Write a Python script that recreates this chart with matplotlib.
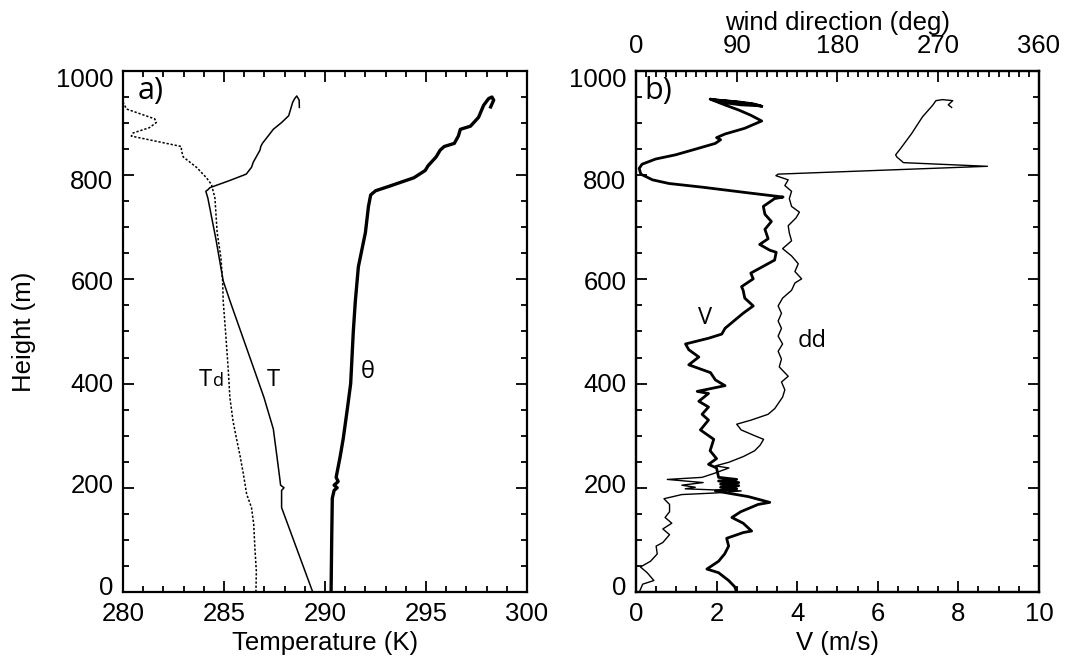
import matplotlib
matplotlib.use("Agg")
import matplotlib.pyplot as plt
from matplotlib.ticker import MultipleLocator
from matplotlib.transforms import ScaledTranslation

plt.rcParams['font.family'] = ['Liberation Sans', 'DejaVu Sans']

# ---------------- data: panel a) ----------------
T_height = [0, 162, 195, 200, 205, 215, 260, 313, 373, 426, 558, 597, 677, 756, 769,
            772, 776, 790, 802, 815, 825, 848, 855, 861, 888, 901, 914, 940, 947, 952,
            944, 930]
T_value = [289.39, 287.85, 287.85, 287.97, 287.8, 287.77, 287.62, 287.44, 286.98, 286.5,
           285.3, 284.96, 284.6, 284.2, 284.1, 284.2, 284.3, 285.3, 286.1, 286.36, 286.45,
           286.78, 286.82, 286.9, 287.44, 287.85, 288.2, 288.4, 288.5, 288.6, 288.72, 288.73]

Td_height = [0, 40, 83, 130, 162, 188, 228, 260, 294, 327, 373, 426, 492, 558, 597, 640,
             690, 756, 782, 795, 815, 835, 848, 855, 875, 881, 891, 901, 908, 927, 940, 950]
Td_value = [286.58, 286.6, 286.53, 286.47, 286.36, 286.12, 285.95, 285.8, 285.62, 285.45,
            285.29, 285.21, 285.09, 284.96, 284.93, 284.85, 284.66, 284.55, 284.38, 284.13,
            283.64, 282.98, 282.89, 282.89, 280.41, 280.5, 281.3, 281.65, 281.57, 280.17,
            280.0, 279.8]

theta_height = [0, 100, 180, 195, 200, 205, 212, 220, 260, 294, 350, 400, 500, 558, 624,
                690, 740, 762, 770, 779, 795, 809, 818, 835, 848, 855, 861, 875, 888, 894,
                911, 934, 947, 950, 944, 931]
theta_value = [290.3, 290.33, 290.36, 290.45, 290.6, 290.45, 290.65, 290.55, 290.75, 290.9,
               291.1, 291.27, 291.4, 291.5, 291.65, 292.0, 292.15, 292.26, 292.5, 293.2,
               294.4, 294.96, 295.1, 295.5, 295.7, 295.9, 296.4, 296.6, 296.7, 297.2, 297.6,
               297.85, 298.1, 298.26, 298.35, 298.2]

# ---------------- data: panel b) ----------------
V_height = [0, 10, 22, 37, 44, 59, 73, 88, 103, 114, 117, 132, 143, 154, 168, 172, 183,
            194, 198, 201, 204, 207, 210, 213, 216, 220, 238, 245, 256, 271, 293, 311, 330,
            341, 355, 366, 381, 385, 396, 407, 421, 436, 451, 465, 476, 487, 495, 506, 517,
            535, 549, 564, 579, 586, 601, 612, 623, 637, 652, 656, 667, 678, 696, 711, 725,
            740, 755, 758, 766, 777, 784, 791, 802, 813, 821, 831, 839, 850, 861, 868, 872,
            879, 890, 904, 915, 925, 935, 946, 944, 941, 937, 933, 935, 940, 945, 941, 936,
            932]
V_value = [2.5, 2.45, 2.3, 2.05, 1.76, 2.05, 2.2, 2.3, 2.25, 2.66, 2.87, 2.66, 2.38, 2.6,
           3.03, 3.32, 2.79, 1.97, 2.5, 2.1, 2.55, 2.1, 2.55, 2.05, 2.5, 2.05, 2.0, 1.8, 2.0,
           1.84, 1.93, 1.6, 1.8, 1.64, 1.8, 1.56, 1.8, 1.52, 2.21, 1.97, 1.85, 1.31, 1.56,
           1.31, 1.23, 1.8, 2.13, 2.21, 2.38, 2.66, 2.91, 2.7, 2.66, 2.62, 2.91, 2.85, 3.11,
           3.44, 3.48, 3.32, 3.07, 3.28, 3.2, 3.36, 3.2, 3.16, 3.44, 3.65, 2.79, 1.64, 0.82,
           0.41, 0.12, 0.08, 0.15, 0.49, 0.98, 1.48, 1.97, 2.1, 2.0, 2.21, 2.7, 3.12, 2.85,
           2.55, 2.2, 1.84, 2.0, 2.5, 2.9, 3.1, 2.6, 2.1, 1.9, 2.4, 2.9, 3.12]

dd_height = [0, 15, 22, 37, 48, 59, 73, 88, 95, 110, 121, 132, 143, 154, 168, 179, 187,
             190, 194, 198, 201, 205, 210, 216, 220, 227, 238, 242, 249, 260, 271, 282, 293,
             300, 311, 322, 330, 341, 352, 374, 388, 403, 414, 432, 447, 462, 476, 491, 506,
             520, 535, 549, 564, 579, 593, 601, 615, 630, 645, 659, 674, 689, 703, 718, 729,
             740, 755, 769, 780, 791, 799, 802, 817, 824, 835, 839, 850, 879, 912, 934, 943,
             945, 943, 935, 930]
dd_value = [3, 6, 16, 10, 4, 13, 19, 18, 24, 30, 24, 32, 26, 30, 30, 25, 41, 71, 94, 44, 53,
            41, 60, 28, 59, 69, 83, 71, 83, 96, 106, 111, 114, 106, 94, 90, 103, 118, 124,
            131, 133, 130, 136, 128, 130, 127, 131, 127, 130, 127, 130, 127, 131, 139, 142,
            148, 142, 145, 139, 131, 139, 137, 136, 143, 146, 139, 137, 139, 133, 136, 125,
            127, 314, 239, 233, 232, 236, 246, 256, 265, 268, 274, 283, 279, 282]

FS = 18.5
LABEL_FONT = ['Open Sans', 'DejaVu Sans']

fig = plt.figure(figsize=(10.66, 6.65), dpi=100)
axa = fig.add_axes([0.1154, 0.1098, 0.379, 0.7835])
axb = fig.add_axes([0.5966, 0.1098, 0.378, 0.7835])


def style(ax, top=True):
    for s in ax.spines.values():
        s.set_linewidth(1.6)
    ax.tick_params(which='both', direction='in', top=top, right=True,
                   labelsize=FS, width=1.3)
    ax.tick_params(which='major', length=8, pad=7)
    ax.tick_params(which='minor', length=4.5)


def shift_ylabels(ax):
    # reference tick labels are slightly pulled toward the axis centre
    locs = [v for v in ax.yaxis.get_majorticklocs() if 0 <= v <= 1000]
    ticks = ax.yaxis.get_major_ticks(len(ax.yaxis.get_majorticklocs()))
    for tick, v in zip(ticks, ax.yaxis.get_majorticklocs()):
        dy = -5.0 * (2 * v / 1000.0 - 1)
        tick.label1.set_transform(tick.label1.get_transform() +
                                  ScaledTranslation(0, dy / 72.0, fig.dpi_scale_trans))


# ---- panel a ----
axa.plot(T_value, T_height, color='black', lw=1.1)
axa.plot(Td_value, Td_height, color='black', lw=1.1, ls=(0, (1.5, 1.2)))
axa.plot(theta_value, theta_height, color='black', lw=2.4)
axa.set_xlim(280, 300)
axa.set_ylim(0, 1000)
axa.xaxis.set_major_locator(MultipleLocator(5))
axa.xaxis.set_minor_locator(MultipleLocator(1))
axa.yaxis.set_major_locator(MultipleLocator(200))
axa.yaxis.set_minor_locator(MultipleLocator(50))
style(axa)
axa.set_xlabel('Temperature (K)', fontsize=FS, labelpad=4)
axa.set_ylabel('Height (m)', fontsize=FS, labelpad=14)
axa.text(0.035, 0.99, 'a)', transform=axa.transAxes, fontsize=22, va='top', ha='left',
         family=LABEL_FONT)
axa.text(283.75, 395, 'T', fontsize=17, family=LABEL_FONT, va='baseline')
axa.text(284.45, 395, 'd', fontsize=13, family=LABEL_FONT, va='baseline')
axa.text(287.1, 395, 'T', fontsize=17, family=LABEL_FONT, va='baseline')
axa.text(291.75, 410, 'θ', fontsize=17, family=LABEL_FONT, va='baseline')

# ---- panel b ----
axb.plot(V_value, V_height, color='black', lw=2.0)
axb.set_xlim(0, 10)
axb.set_ylim(0, 1000)
axb.xaxis.set_major_locator(MultipleLocator(2))
axb.xaxis.set_minor_locator(MultipleLocator(0.5))
axb.yaxis.set_major_locator(MultipleLocator(200))
axb.yaxis.set_minor_locator(MultipleLocator(50))
style(axb, top=False)
axb.set_xlabel('V (m/s)', fontsize=FS, labelpad=4)
axb.text(0.02, 0.99, 'b)', transform=axb.transAxes, fontsize=22, va='top', ha='left',
         family=LABEL_FONT)
axb.text(1.55, 515, 'V', fontsize=17, family=LABEL_FONT, va='baseline')
axb.text(4.0, 470, 'dd', fontsize=17, family=LABEL_FONT, va='baseline')

axt = axb.twiny()
axt.plot(dd_value, dd_height, color='black', lw=1.0)
axt.set_xlim(0, 360)
axt.set_ylim(0, 1000)
axt.xaxis.set_major_locator(MultipleLocator(90))
axt.xaxis.set_minor_locator(MultipleLocator(9))
axt.tick_params(which='both', direction='in', labelsize=FS, width=1.3)
axt.tick_params(which='major', length=8, pad=9)
axt.tick_params(which='minor', length=4.5)
for s in axt.spines.values():
    s.set_linewidth(1.6)
axt.set_xlabel('wind direction (deg)', fontsize=FS, labelpad=3)

shift_ylabels(axa)
shift_ylabels(axb)

fig.savefig('out.png', dpi=100)
